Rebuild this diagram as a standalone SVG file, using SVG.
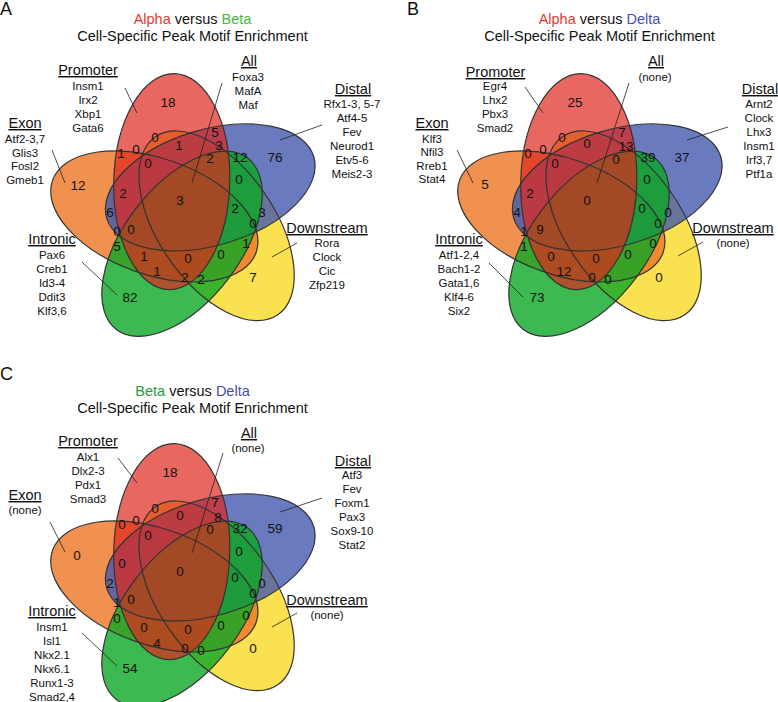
<svg xmlns="http://www.w3.org/2000/svg" width="778" height="702" viewBox="0 0 778 702">
<style>
text{font-family:"Liberation Sans",Arial,Helvetica,sans-serif;fill:#111}
.pl{font-size:18px}
.ti{font-size:14.5px;text-anchor:middle}
.hd{font-size:14.5px;text-anchor:middle;text-decoration:underline}
.it{font-size:11.5px;text-anchor:middle}
.n{font-size:13.5px;text-anchor:middle}
.ld{stroke:#222;stroke-width:0.8;fill:none}
.ol{fill:none;stroke:#333;stroke-width:1.2}
.fY{fill:#F9DA24;fill-opacity:0.8}
.fO{fill:#EC7624;fill-opacity:0.8}
.fB{fill:#4559AE;fill-opacity:0.8}
.fG{fill:#0BA824;fill-opacity:0.8}
.fR{fill:#DE271C;fill-opacity:0.7}
</style>
<defs>
<g id="flower">
<g transform="rotate(1.5 187 211)">
<ellipse class="fY" cx="171" cy="182" rx="58" ry="108" transform="rotate(144 187 211)"/>
<ellipse class="fO" cx="171" cy="182" rx="58" ry="108" transform="rotate(288 187 211)"/>
<ellipse class="fB" cx="171" cy="182" rx="58" ry="108" transform="rotate(72 187 211)"/>
<ellipse class="fG" cx="171" cy="182" rx="58" ry="108" transform="rotate(216 187 211)"/>
<ellipse class="fR" cx="171" cy="182" rx="58" ry="108"/>
<ellipse class="ol" cx="171" cy="182" rx="58" ry="108"/>
<ellipse class="ol" cx="171" cy="182" rx="58" ry="108" transform="rotate(72 187 211)"/>
<ellipse class="ol" cx="171" cy="182" rx="58" ry="108" transform="rotate(144 187 211)"/>
<ellipse class="ol" cx="171" cy="182" rx="58" ry="108" transform="rotate(216 187 211)"/>
<ellipse class="ol" cx="171" cy="182" rx="58" ry="108" transform="rotate(288 187 211)"/>
</g>
</g>
</defs>

<!-- Panel A -->
<g id="panelA">
<text class="pl" x="0" y="15">A</text>
<text class="ti" x="192.5" y="24"><tspan fill="#E8392E">Alpha</tspan> versus <tspan fill="#45B83A">Beta</tspan></text>
<text class="ti" x="192.5" y="41">Cell-Specific Peak Motif Enrichment</text>
<g id="A-sets"><use href="#flower"/></g>
<g id="A-connectors">
<line class="ld" x1="125" y1="88" x2="137" y2="113"/>
<line class="ld" x1="52" y1="150" x2="65" y2="183"/>
<line class="ld" x1="222" y1="83" x2="192" y2="183"/>
<line class="ld" x1="322" y1="125" x2="280" y2="140"/>
<line class="ld" x1="82" y1="262" x2="117" y2="295"/>
<line class="ld" x1="297" y1="243" x2="272" y2="257"/>
</g>
<g id="A-promoter"><text class="hd" x="88" y="75">Promoter</text><text class="it" x="88" y="90">Insm1</text><text class="it" x="88" y="104">Irx2</text><text class="it" x="88" y="118">Xbp1</text><text class="it" x="88" y="132">Gata6</text></g>
<g id="A-exon"><text class="hd" x="25" y="128">Exon</text><text class="it" x="25" y="143">Atf2-3,7</text><text class="it" x="25" y="156.5">Glis3</text><text class="it" x="25" y="170">Fosl2</text><text class="it" x="25" y="183.5">Gmeb1</text></g>
<g id="A-all"><text class="hd" x="249" y="66">All</text><text class="it" x="248" y="81">Foxa3</text><text class="it" x="248" y="95">MafA</text><text class="it" x="248" y="109">Maf</text></g>
<g id="A-distal"><text class="hd" x="353" y="94">Distal</text><text class="it" x="352" y="108">Rfx1-3, 5-7</text><text class="it" x="352" y="122">Atf4-5</text><text class="it" x="352" y="136">Fev</text><text class="it" x="352" y="150">Neurod1</text><text class="it" x="352" y="164">Etv5-6</text><text class="it" x="352" y="178">Meis2-3</text></g>
<g id="A-intronic"><text class="hd" x="52" y="244">Intronic</text><text class="it" x="52" y="259">Pax6</text><text class="it" x="52" y="273">Creb1</text><text class="it" x="52" y="287">Id3-4</text><text class="it" x="52" y="301">Ddit3</text><text class="it" x="52" y="315">Klf3,6</text></g>
<g id="A-downstream"><text class="hd" x="327" y="233">Downstream</text><text class="it" x="327" y="247">Rora</text><text class="it" x="327" y="261">Clock</text><text class="it" x="327" y="275">Cic</text><text class="it" x="327" y="289">Zfp219</text></g>
<g id="A-counts">
<text class="n" x="168" y="107">18</text><text class="n" x="155" y="142">0</text><text class="n" x="179" y="150">1</text><text class="n" x="121" y="158">1</text><text class="n" x="136" y="154">0</text><text class="n" x="148" y="168">0</text><text class="n" x="78" y="190">12</text><text class="n" x="123" y="198">2</text><text class="n" x="180" y="205">3</text><text class="n" x="110" y="217">6</text><text class="n" x="215" y="137">5</text><text class="n" x="219" y="150">3</text><text class="n" x="210" y="163">2</text><text class="n" x="240" y="162">12</text><text class="n" x="275" y="162">76</text><text class="n" x="239" y="184">0</text><text class="n" x="235" y="213">2</text><text class="n" x="262" y="217">3</text><text class="n" x="253" y="228">0</text><text class="n" x="117" y="236">0</text><text class="n" x="131" y="234">0</text><text class="n" x="117" y="251">5</text><text class="n" x="246" y="248">1</text><text class="n" x="144" y="261">1</text><text class="n" x="188" y="263">0</text><text class="n" x="221" y="259">0</text><text class="n" x="157" y="276">1</text><text class="n" x="185" y="282">2</text><text class="n" x="201" y="284">2</text><text class="n" x="253" y="282">7</text><text class="n" x="130" y="302">82</text>
</g>
</g>

<!-- Panel B -->
<g id="panelB" transform="translate(407,0)">
<text class="pl" x="0" y="15">B</text>
<text class="ti" x="192.5" y="24"><tspan fill="#E8392E">Alpha</tspan> versus <tspan fill="#4A4DB0">Delta</tspan></text>
<text class="ti" x="192.5" y="41">Cell-Specific Peak Motif Enrichment</text>
<g id="B-sets"><use href="#flower"/></g>
<g id="B-connectors">
<line class="ld" x1="118" y1="87" x2="136" y2="113"/>
<line class="ld" x1="50" y1="150" x2="66" y2="183"/>
<line class="ld" x1="222" y1="83" x2="190" y2="183"/>
<line class="ld" x1="321" y1="127" x2="280" y2="140"/>
<line class="ld" x1="82" y1="263" x2="116" y2="297"/>
<line class="ld" x1="296" y1="242" x2="271" y2="256"/>
</g>
<g id="B-promoter"><text class="hd" x="88.5" y="77">Promoter</text><text class="it" x="88" y="90">Egr4</text><text class="it" x="88" y="104">Lhx2</text><text class="it" x="88" y="118">Pbx3</text><text class="it" x="88" y="132">Smad2</text></g>
<g id="B-exon"><text class="hd" x="25" y="128">Exon</text><text class="it" x="25" y="142.5">Klf3</text><text class="it" x="25" y="156">Nfil3</text><text class="it" x="25" y="169.5">Rreb1</text><text class="it" x="25" y="183">Stat4</text></g>
<g id="B-all"><text class="hd" x="249" y="66">All</text><text class="it" x="248" y="81">(none)</text></g>
<g id="B-distal"><text class="hd" x="353" y="94">Distal</text><text class="it" x="352" y="108">Arnt2</text><text class="it" x="352" y="122">Clock</text><text class="it" x="352" y="136">Lhx3</text><text class="it" x="352" y="150">Insm1</text><text class="it" x="352" y="164">Irf3,7</text><text class="it" x="352" y="178">Ptf1a</text></g>
<g id="B-intronic"><text class="hd" x="52" y="244">Intronic</text><text class="it" x="52" y="259">Atf1-2,4</text><text class="it" x="52" y="273">Bach1-2</text><text class="it" x="52" y="287">Gata1,6</text><text class="it" x="52" y="301">Klf4-6</text><text class="it" x="52" y="315">Six2</text></g>
<g id="B-downstream"><text class="hd" x="326" y="233">Downstream</text><text class="it" x="326" y="247">(none)</text></g>
<g id="B-counts">
<text class="n" x="168" y="107">25</text><text class="n" x="155" y="142">0</text><text class="n" x="180" y="148">0</text><text class="n" x="121" y="158">0</text><text class="n" x="136" y="154">0</text><text class="n" x="148" y="168">0</text><text class="n" x="78" y="189">5</text><text class="n" x="123" y="198">2</text><text class="n" x="180" y="205">0</text><text class="n" x="110" y="217">4</text><text class="n" x="215" y="137">7</text><text class="n" x="219" y="151">13</text><text class="n" x="209" y="164">0</text><text class="n" x="241" y="162">39</text><text class="n" x="275" y="162">37</text><text class="n" x="240" y="184">0</text><text class="n" x="235" y="213">0</text><text class="n" x="261" y="217">0</text><text class="n" x="251" y="228">0</text><text class="n" x="117" y="236">1</text><text class="n" x="133" y="234">9</text><text class="n" x="117" y="251">1</text><text class="n" x="246" y="248">0</text><text class="n" x="144" y="261">0</text><text class="n" x="189" y="263">0</text><text class="n" x="221" y="259">0</text><text class="n" x="157" y="276">12</text><text class="n" x="185" y="282">0</text><text class="n" x="201" y="284">0</text><text class="n" x="252" y="282">0</text><text class="n" x="130" y="302">73</text>
</g>
</g>

<!-- Panel C -->
<g id="panelC" transform="translate(0,370)">
<text class="pl" x="0" y="10">C</text>
<text class="ti" x="192.5" y="26"><tspan fill="#1E9E3E">Beta</tspan> versus <tspan fill="#4A4DB0">Delta</tspan></text>
<text class="ti" x="192.5" y="43">Cell-Specific Peak Motif Enrichment</text>
<g id="C-sets"><use href="#flower"/></g>
<g id="C-connectors">
<line class="ld" x1="118" y1="88" x2="137" y2="113"/>
<line class="ld" x1="50" y1="152" x2="65" y2="182"/>
<line class="ld" x1="223" y1="83" x2="192" y2="183"/>
<line class="ld" x1="322" y1="128" x2="280" y2="142"/>
<line class="ld" x1="82" y1="263" x2="117" y2="296"/>
<line class="ld" x1="297" y1="243" x2="272" y2="257"/>
</g>
<g id="C-promoter"><text class="hd" x="88" y="76">Promoter</text><text class="it" x="88" y="91">Alx1</text><text class="it" x="88" y="105">Dlx2-3</text><text class="it" x="88" y="119">Pdx1</text><text class="it" x="88" y="133">Smad3</text></g>
<g id="C-exon"><text class="hd" x="25" y="130">Exon</text><text class="it" x="25" y="144">(none)</text></g>
<g id="C-all"><text class="hd" x="249" y="68">All</text><text class="it" x="248" y="82">(none)</text></g>
<g id="C-distal"><text class="hd" x="353" y="96">Distal</text><text class="it" x="352" y="109">Atf3</text><text class="it" x="352" y="123">Fev</text><text class="it" x="352" y="137">Foxm1</text><text class="it" x="352" y="151">Pax3</text><text class="it" x="352" y="165">Sox9-10</text><text class="it" x="352" y="179">Stat2</text></g>
<g id="C-intronic"><text class="hd" x="52" y="246">Intronic</text><text class="it" x="52" y="261">Insm1</text><text class="it" x="52" y="275">Isl1</text><text class="it" x="52" y="289">Nkx2.1</text><text class="it" x="52" y="303">Nkx6.1</text><text class="it" x="52" y="317">Runx1-3</text><text class="it" x="52" y="331">Smad2,4</text></g>
<g id="C-downstream"><text class="hd" x="327" y="235">Downstream</text><text class="it" x="327" y="249">(none)</text></g>
<g id="C-counts">
<text class="n" x="170" y="107">18</text><text class="n" x="155" y="143">0</text><text class="n" x="180" y="150">0</text><text class="n" x="122" y="159">0</text><text class="n" x="136" y="155">0</text><text class="n" x="148" y="170">0</text><text class="n" x="77" y="190">0</text><text class="n" x="122" y="198">0</text><text class="n" x="180" y="206">0</text><text class="n" x="110" y="218">2</text><text class="n" x="215" y="137">7</text><text class="n" x="218" y="152">8</text><text class="n" x="210" y="164">0</text><text class="n" x="240" y="163">32</text><text class="n" x="275" y="163">59</text><text class="n" x="239" y="186">0</text><text class="n" x="235" y="212">0</text><text class="n" x="262" y="218">0</text><text class="n" x="253" y="228">0</text><text class="n" x="117" y="237">1</text><text class="n" x="131" y="234">0</text><text class="n" x="117" y="253">0</text><text class="n" x="246" y="250">0</text><text class="n" x="144" y="262">0</text><text class="n" x="188" y="264">0</text><text class="n" x="221" y="260">0</text><text class="n" x="157" y="278">4</text><text class="n" x="185" y="283">0</text><text class="n" x="201" y="285">0</text><text class="n" x="253" y="283">0</text><text class="n" x="130" y="303">54</text>
</g>
</g>
</svg>
